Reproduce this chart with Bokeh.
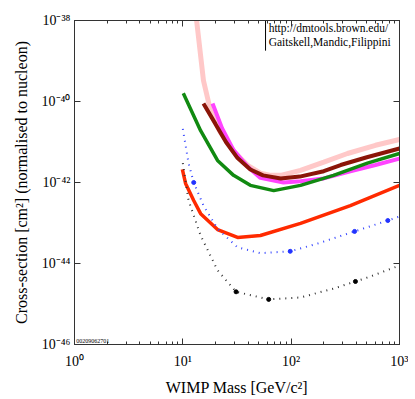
from bokeh.plotting import figure
from bokeh.models import LogAxis, FixedTicker, Label, Range1d
from bokeh.embed import file_html
from bokeh.resources import INLINE

# ---- data (WIMP mass in GeV/c^2, cross-section in cm^2) ----
pink_m = [13.0, 13.4, 15.5, 18, 22, 30, 40, 52, 65, 80, 122, 200, 331, 600, 1000]
pink_s = [1.6e-38, 1.0e-38, 3.3e-40, 6.0e-41, 1.8e-41, 5.6e-42, 2.6e-42, 1.7e-42, 1.5e-42, 1.5e-42, 2.0e-42, 3.2e-42, 5.2e-42, 8.3e-42, 1.15e-41]

brown_m = [15.5, 20, 25, 32, 42, 55, 80, 120, 200, 286, 500, 1000]
brown_s = [8.9e-41, 2.8e-41, 1.0e-41, 4.0e-42, 2.1e-42, 1.5e-42, 1.26e-42, 1.4e-42, 1.9e-42, 2.7e-42, 4.2e-42, 6.9e-42]

magenta_m = [18.8, 23, 29.4, 40, 52, 85, 122, 200, 352, 600, 1000]
magenta_s = [8.9e-41, 2.2e-41, 6.3e-42, 2.4e-42, 1.3e-42, 1.0e-42, 1.07e-42, 1.26e-42, 1.9e-42, 2.7e-42, 3.9e-42]

green_m = [10.1, 14.6, 20.9, 29.4, 42, 69, 122, 246, 506, 1000]
green_s = [1.6e-40, 1.9e-41, 3.5e-42, 1.5e-42, 8.5e-43, 6.3e-43, 8.5e-43, 1.5e-42, 3.0e-42, 5.2e-42]

red_m = [9.9, 10.6, 12.6, 14.6, 20.9, 32, 52, 122, 352, 1000]
red_s = [2.1e-42, 9.5e-43, 3.6e-43, 1.7e-43, 6.9e-44, 4.4e-44, 4.9e-44, 9.8e-44, 2.7e-43, 8.5e-43]

blue_m = [10, 11.3, 12.6, 15.5, 20.9, 32, 52, 98, 175, 385, 780, 1000]
blue_s = [2.1e-41, 3.0e-42, 1.0e-42, 2.7e-43, 7.2e-44, 2.5e-44, 1.8e-44, 2.0e-44, 3.1e-44, 6.2e-44, 1.15e-43, 1.45e-43]
blue_mark_m = [12.6, 98, 385, 780]
blue_mark_s = [1.0e-42, 2.0e-44, 6.2e-44, 1.15e-43]

black_m = [10, 11.3, 14.6, 20.9, 31, 62, 122, 246, 506, 1000]
black_s = [3.0e-42, 3.6e-43, 4.9e-44, 6.8e-45, 2.0e-45, 1.3e-45, 1.45e-45, 2.4e-45, 4.5e-45, 8.9e-45]
black_mark_m = [31, 62, 392]
black_mark_s = [2.0e-45, 1.3e-45, 3.6e-45]

x_ticks = [1, 10, 100, 1000]
x_tick_labels = ["10\u2070", "10\u00b9", "10\u00b2", "10\u00b3"]
y_ticks = [1e-46, 1e-44, 1e-42, 1e-40, 1e-38]
y_tick_labels = ["10\u207b\u2074\u2076", "10\u207b\u2074\u2074", "10\u207b\u2074\u00b2",
                 "10\u207b\u2074\u2070", "10\u207b\u00b3\u2078"]
x_minor = [d * k for d in [1, 10, 100] for k in range(2, 10)]

credit_lines = ["http://dmtools.brown.edu/", "Gaitskell,Mandic,Filippini"]
stamp_text = "00209062701"

FONT = "Liberation Serif"

p = figure(width=408, height=398, x_axis_type="log", y_axis_type="log",
           x_range=Range1d(1, 1000), y_range=Range1d(1e-46, 1e-38),
           output_backend="svg", toolbar_location=None,
           min_border_left=74, min_border_right=9, min_border_top=20, min_border_bottom=54)
p.background_fill_color = "white"
p.border_fill_color = "white"
p.outline_line_color = "#333333"
p.outline_line_width = 1
p.grid.visible = False

xt = FixedTicker(ticks=x_ticks, minor_ticks=x_minor)
yt = FixedTicker(ticks=y_ticks, minor_ticks=[])

def style(ax):
    ax.axis_line_color = "#333333"
    ax.major_tick_line_color = "#333333"
    ax.minor_tick_line_color = "#333333"
    ax.major_tick_in = 6
    ax.major_tick_out = 0
    ax.minor_tick_in = 3
    ax.minor_tick_out = 0
    ax.major_label_text_font = FONT
    ax.major_label_text_color = "black"
    ax.major_label_text_font_size = "14px"
    ax.axis_label_text_font = FONT
    ax.axis_label_text_font_style = "normal"
    ax.axis_label_text_color = "black"
    ax.axis_label_text_font_size = "16px"

for ax in p.xaxis:
    style(ax)
    ax.ticker = xt
    ax.major_label_overrides = {t: s for t, s in zip(x_ticks, x_tick_labels)}
    ax.axis_label = "WIMP Mass [GeV/c\u00b2]"
    ax.major_label_standoff = 9
    ax.axis_label_standoff = 7
for ax in p.yaxis:
    style(ax)
    ax.ticker = yt
    ax.major_label_overrides = {t: s for t, s in zip(y_ticks, y_tick_labels)}
    ax.axis_label = "Cross-section [cm\u00b2] (normalised to nucleon)"
    ax.major_label_standoff = 4
    ax.axis_label_standoff = 9

top = LogAxis(ticker=xt)
style(top)
top.major_label_overrides = {t: " " for t in x_ticks}
top.major_label_text_font_size = "1px"
top.major_label_standoff = 0
right = LogAxis(ticker=yt)
style(right)
right.major_label_overrides = {t: " " for t in y_ticks}
right.major_label_text_font_size = "1px"
right.major_label_standoff = 0
p.add_layout(top, "above")
p.add_layout(right, "right")

# curves
p.line(pink_m, pink_s, line_color="#ffc8c8", line_width=5)
p.line(magenta_m, magenta_s, line_color="#ff44ff", line_width=4)
p.line(brown_m, brown_s, line_color="#8b1508", line_width=4)
p.line(green_m, green_s, line_color="#118a11", line_width=3.5)
p.line(red_m, red_s, line_color="#ff2a00", line_width=3.5)
p.line(blue_m, blue_s, line_color="#3344ff", line_width=2, line_dash="1 5")
p.scatter(blue_mark_m, blue_mark_s, size=4, color="#2233ff")
p.line(black_m, black_s, line_color="#333333", line_width=2, line_dash="1 5")
p.scatter(black_mark_m, black_mark_s, size=4, color="black")

# credit box
p.segment(x0=[58], y0=[1e-38], x1=[58], y1=[1.8e-39], line_color="black", line_width=1)
p.add_layout(Label(x=62, y=9.2e-39, text=credit_lines[0], text_font=FONT,
                   text_font_size="11.5px", text_baseline="top", text_color="black"))
p.add_layout(Label(x=62, y=4.1e-39, text=credit_lines[1], text_font=FONT,
                   text_font_size="11.5px", text_baseline="top", text_color="black"))
p.add_layout(Label(x=1.04, y=1.25e-46, text=stamp_text, text_font=FONT,
                   text_font_size="6px", text_baseline="alphabetic", text_color="black"))

open("out.html", "w").write(file_html(p, INLINE))
